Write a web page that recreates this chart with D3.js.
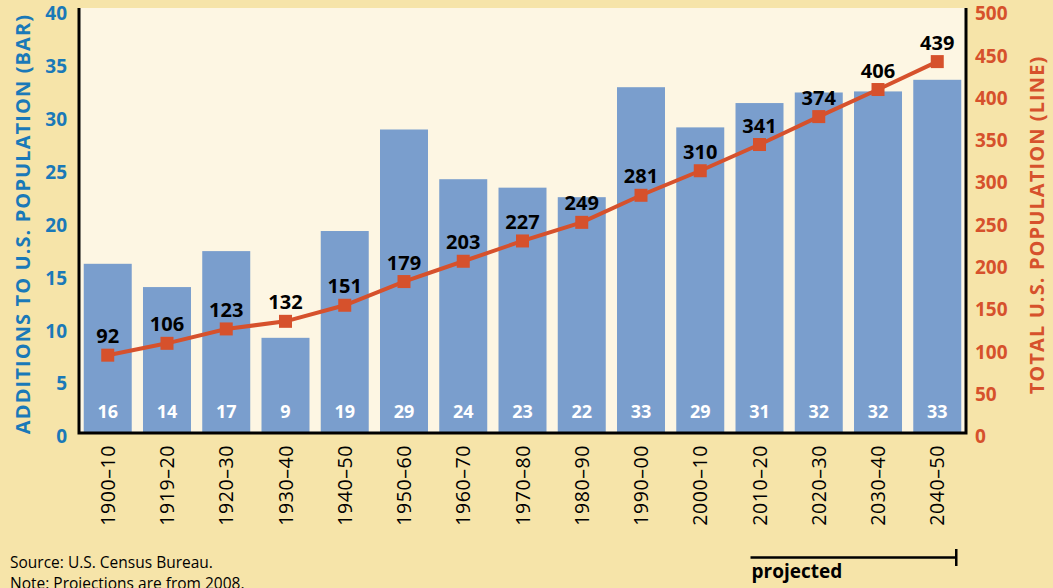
<!DOCTYPE html>
<html>
<head>
<meta charset="utf-8">
<script src="https://cdn.jsdelivr.net/npm/d3@7"></script>
<style>
  html, body { margin: 0; padding: 0; background: #f6e4a9; }
  svg { display: block; font-family: "Open Sans", "Noto Sans", sans-serif; }
</style>
</head>
<body>
<div id="chart"></div>
<script>
const categories = ["1900–10", "1919–20", "1920–30", "1930–40", "1940–50", "1950–60", "1960–70",
  "1970–80", "1980–90", "1990–00", "2000–10", "2010–20", "2020–30", "2030–40", "2040–50"];
const additions = [16.0, 13.8, 17.2, 9.0, 19.1, 28.7, 24.0, 23.2, 22.3, 32.7, 28.9, 31.2, 32.2, 32.3, 33.4];
const additionLabels = [16, 14, 17, 9, 19, 29, 24, 23, 22, 33, 29, 31, 32, 32, 33];
const totals = [92, 106, 123, 132, 151, 179, 203, 227, 249, 281, 310, 341, 374, 406, 439];
const leftTicks = [0, 5, 10, 15, 20, 25, 30, 35, 40];
const rightTicks = [0, 50, 100, 150, 200, 250, 300, 350, 400, 450, 500];
const projectedFrom = "2010–20";

const width = 1053, height = 588;
const plot = { left: 79, right: 966, top: 8, bottom: 433 };

const blue = "#1a79b8", red = "#d6512c", barColor = "#7a9ecd";

const svg = d3.select("#chart").append("svg")
  .attr("width", width)
  .attr("height", height)
  .attr("viewBox", [0, 0, width, height]);

svg.append("rect").attr("width", width).attr("height", height).attr("fill", "#f6e4a9");
svg.append("rect")
  .attr("x", plot.left).attr("y", plot.top)
  .attr("width", plot.right - plot.left).attr("height", plot.bottom - plot.top)
  .attr("fill", "#fdf6e3");

const x = d3.scaleBand()
  .domain(categories)
  .range([plot.left, plot.right])
  .paddingInner(0.19)
  .paddingOuter(0.08);

const yLeft = d3.scaleLinear().domain([0, 40]).range([plot.bottom, 10]);
const yRight = d3.scaleLinear().domain([0, 500]).range([plot.bottom, 10]);

// bars
svg.append("g")
  .selectAll("rect")
  .data(additions)
  .join("rect")
  .attr("x", (d, i) => x(categories[i]))
  .attr("y", d => yLeft(d))
  .attr("width", x.bandwidth())
  .attr("height", d => yLeft(0) - yLeft(d))
  .attr("fill", barColor);

svg.append("g")
  .selectAll("text")
  .data(additionLabels)
  .join("text")
  .attr("x", (d, i) => x(categories[i]) + x.bandwidth() / 2)
  .attr("y", 418)
  .attr("text-anchor", "middle")
  .attr("fill", "#fff")
  .attr("font-weight", "bold")
  .attr("font-size", 18)
  .text(d => d);

// axes lines
const axisG = svg.append("g").attr("stroke", "#000").attr("stroke-width", 3).attr("fill", "none");
axisG.append("path")
  .attr("d", `M${plot.left},${plot.top}V${plot.bottom}H${plot.right}V${plot.top}`);

// left ticks
const leftAxis = d3.axisLeft(yLeft).tickValues(leftTicks).tickSize(0).tickPadding(12);
svg.append("g")
  .attr("transform", `translate(${plot.left},0)`)
  .call(leftAxis)
  .call(g => g.select(".domain").remove())
  .call(g => g.selectAll("text")
    .attr("fill", blue)
    .attr("font-size", 19)
    .attr("font-weight", "bold")
    .attr("font-family", "'Open Sans', sans-serif")
    .attr("dy", "0.62em")
    .attr("y", -2));

const rightAxis = d3.axisRight(yRight).tickValues(rightTicks).tickSize(0).tickPadding(9);
svg.append("g")
  .attr("transform", `translate(${plot.right},0)`)
  .call(rightAxis)
  .call(g => g.select(".domain").remove())
  .call(g => g.selectAll("text")
    .attr("fill", red)
    .attr("font-size", 19)
    .attr("font-weight", "bold")
    .attr("font-family", "'Open Sans', sans-serif")
    .attr("dy", "0.62em")
    .attr("y", -2));

// x labels
const xAxis = d3.axisBottom(x).tickSize(0).tickPadding(0);
svg.append("g")
  .attr("transform", `translate(0,${plot.bottom})`)
  .call(xAxis)
  .call(g => g.select(".domain").remove())
  .call(g => g.selectAll("text")
    .attr("transform", "rotate(-90)")
    .attr("text-anchor", "end")
    .attr("x", -12)
    .attr("y", 0)
    .attr("dy", "0.36em")
    .attr("fill", "#000")
    .attr("font-size", 19.5)
    .attr("letter-spacing", 0.6)
    .attr("font-family", "'Open Sans', sans-serif"));

// line
const cx = (d, i) => x(categories[i]) + x.bandwidth() / 2;
const line = d3.line().x(cx).y(d => yRight(d));
svg.append("path")
  .datum(totals)
  .attr("d", line)
  .attr("fill", "none")
  .attr("stroke", red)
  .attr("stroke-width", 4);

svg.append("g")
  .selectAll("rect")
  .data(totals)
  .join("rect")
  .attr("x", (d, i) => cx(d, i) - 6.5)
  .attr("y", d => yRight(d) - 6.5)
  .attr("width", 13)
  .attr("height", 13)
  .attr("fill", red);

svg.append("g")
  .selectAll("text")
  .data(totals)
  .join("text")
  .attr("x", cx)
  .attr("y", d => yRight(d) - 12)
  .attr("text-anchor", "middle")
  .attr("font-weight", "bold")
  .attr("font-size", 20)
  .attr("fill", "#000")
  .text(d => d);

// axis titles
svg.append("text")
  .attr("transform", `translate(30,224) rotate(-90)`)
  .attr("text-anchor", "middle")
  .attr("fill", blue)
  .attr("font-weight", "bold")
  .attr("font-size", 20)
  .attr("letter-spacing", 1.1)
  .text("ADDITIONS TO U.S. POPULATION (BAR)");

svg.append("text")
  .attr("transform", `translate(1044,225) rotate(-90)`)
  .attr("text-anchor", "middle")
  .attr("fill", red)
  .attr("font-weight", "bold")
  .attr("font-size", 20)
  .attr("letter-spacing", 1.1)
  .text("TOTAL U.S. POPULATION (LINE)");

// projected bracket
const lastMid = x(categories[categories.length - 1]) + x.bandwidth() / 2;
const pStart = x(projectedFrom) + x.bandwidth() / 2 - 9;
const pEnd = lastMid + 19;
svg.append("path")
  .attr("d", `M${pStart},557.5H${pEnd}M${pEnd},549V566`)
  .attr("stroke", "#000")
  .attr("stroke-width", 2.5)
  .attr("fill", "none");
svg.append("text")
  .attr("x", pStart + 1)
  .attr("y", 578)
  .attr("font-weight", "bold")
  .attr("font-size", 19)
  .text("projected");

// notes
svg.append("text")
  .attr("x", 10).attr("y", 568)
  .attr("font-size", 15.5)
  .text("Source: U.S. Census Bureau.");
svg.append("text")
  .attr("x", 10).attr("y", 589)
  .attr("font-size", 15.5)
  .text("Note: Projections are from 2008.");
</script>
</body>
</html>
